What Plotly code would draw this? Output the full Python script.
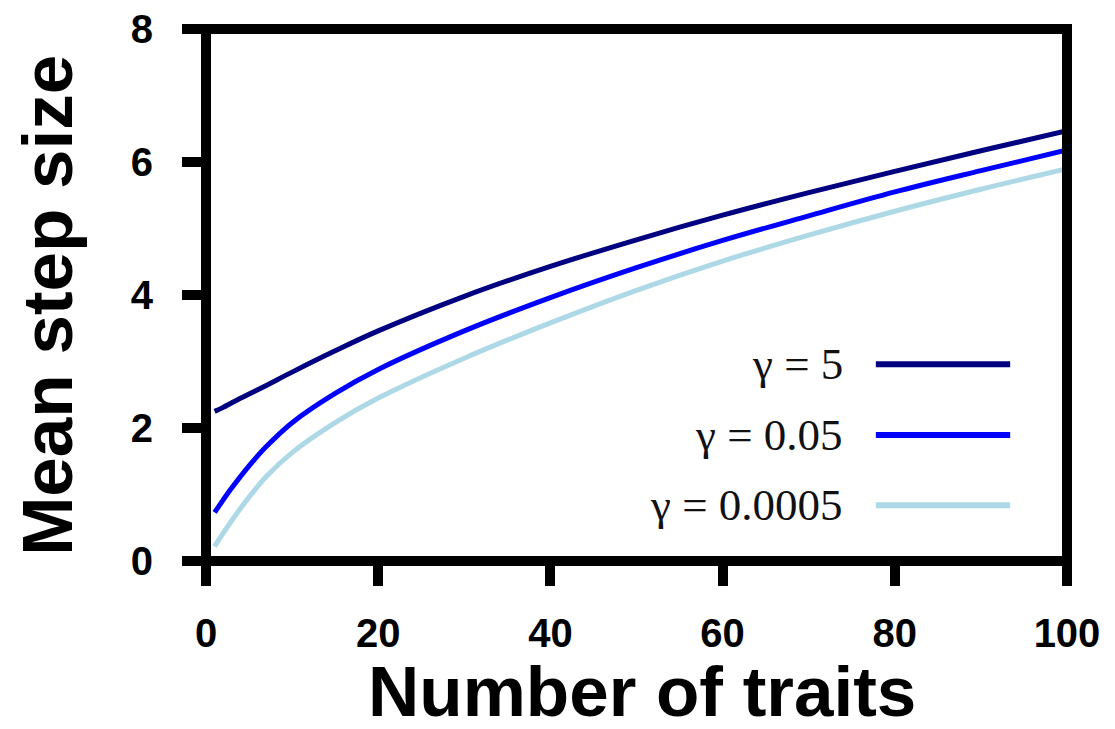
import plotly.graph_objects as go

# ---- data ----
n_traits = [1, 2, 3, 5, 7, 10, 15, 20, 30, 40, 50, 60, 70, 80, 90, 100]
step_gamma_5 = [2.25, 2.31, 2.38, 2.51, 2.64, 2.84, 3.16, 3.46, 3.98, 4.43, 4.83, 5.20, 5.54, 5.86, 6.17, 6.47]
step_gamma_005 = [0.73, 0.92, 1.10, 1.43, 1.72, 2.08, 2.52, 2.88, 3.46, 3.96, 4.41, 4.82, 5.19, 5.55, 5.87, 6.18]
step_gamma_00005 = [0.22, 0.42, 0.61, 0.96, 1.27, 1.63, 2.08, 2.45, 3.05, 3.58, 4.07, 4.51, 4.90, 5.26, 5.59, 5.90]

series_labels = ["γ = 5", "γ = 0.05", "γ = 0.0005"]
series_values = [step_gamma_5, step_gamma_005, step_gamma_00005]
series_colors = ["#000080", "#0000ff", "#add8e6"]

x_ticks = [0, 20, 40, 60, 80, 100]
y_ticks = [0, 2, 4, 6, 8]

x_title = "Number of traits"
y_title = "Mean step size"

fig = go.Figure()
for lab, vals, col in zip(series_labels, series_values, series_colors):
    fig.add_trace(go.Scatter(x=n_traits, y=vals, mode="lines", name=lab,
                             line=dict(color=col, width=5, shape="spline", smoothing=1.0),
                             showlegend=False))

sans = "Liberation Sans, Arial, sans-serif"
tick_font = dict(family=sans, size=40, color="black", weight="bold")
title_font = dict(family=sans, size=71, color="black", weight="bold")

fig.update_layout(
    width=1115, height=729,
    margin=dict(l=206, r=48, t=29, b=168, autoexpand=False),
    paper_bgcolor="white", plot_bgcolor="white",
    xaxis=dict(range=[0, 100], tickvals=x_ticks, ticks="outside", ticklen=24, tickwidth=10,
               tickcolor="black", showgrid=False, zeroline=False, showline=False,
               tickfont=tick_font, ticklabelstandoff=13, automargin=False),
    yaxis=dict(range=[0, 8], tickvals=y_ticks, ticks="outside", ticklen=23, tickwidth=10,
               tickcolor="black", showgrid=False, zeroline=False, showline=False,
               tickfont=tick_font, ticklabelstandoff=21, automargin=False),
)

# axis titles
fig.add_annotation(xref="paper", yref="paper", x=-0.185, y=0.481, xanchor="center", yanchor="middle",
                   text=y_title, textangle=-90, showarrow=False, font=title_font)
fig.add_annotation(xref="paper", yref="paper", x=0.506, y=-0.246, xanchor="center", yanchor="middle",
                   text=x_title, showarrow=False, font=title_font)

# frame
fig.add_shape(type="rect", xref="paper", yref="paper", x0=0, x1=1, y0=0, y1=1,
              line=dict(color="black", width=10), layer="above")

# legend (text on the left, line sample on the right)
legend_y = [0.370, 0.237, 0.105]
for lab, col, ly in zip(series_labels, series_colors, legend_y):
    fig.add_annotation(xref="paper", yref="paper", x=0.742, y=ly, xanchor="right", yanchor="middle",
                       text=lab, showarrow=False,
                       font=dict(family="Liberation Serif, Times New Roman, serif", size=45, color="#111111"))
    fig.add_shape(type="line", xref="paper", yref="paper", x0=0.778, x1=0.934, y0=ly, y1=ly,
                  line=dict(color=col, width=6))

fig.write_html("out.html")
